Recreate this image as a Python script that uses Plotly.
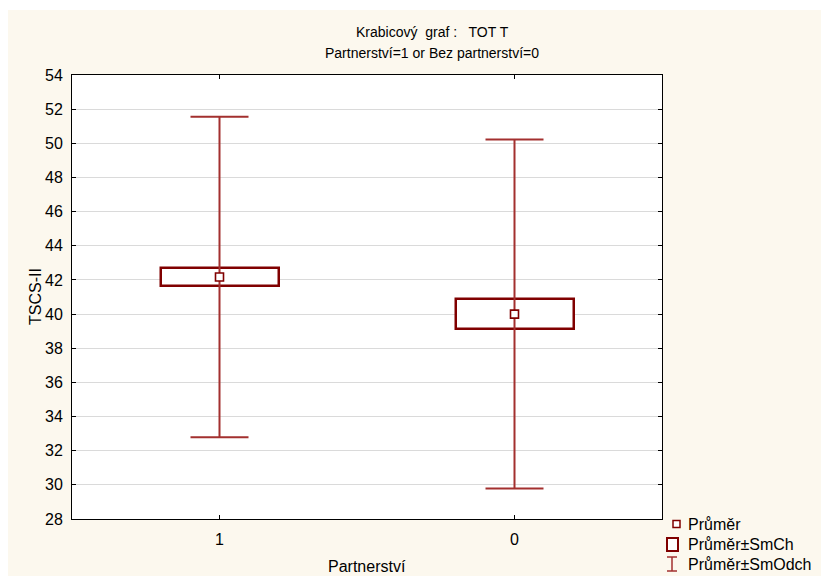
import plotly.graph_objects as go

# Group statistics for TSCS-II by partnership status
categories = ["1", "0"]
means = [42.17, 40.00]
std_errors = [0.52, 0.88]
std_devs = [9.38, 10.22]

y_ticks = list(range(28, 55, 2))

title_line1 = "Krabicový  graf :   TOT T"
title_line2 = "Partnerství=1 or Bez partnerství=0"
x_title = "Partnerství"
y_title = "TSCS-II"
legend_labels = ["Průměr", "Průměr±SmCh", "Průměr±SmOdch"]

BOX_COLOR = "#800000"
WHISKER_COLOR = "#A3302F"
BG = "#FCF8EE"
FONT = "Liberation Sans, Arial, sans-serif"

# plot area in pixels
W, H = 821, 576
L, R, T, B = 72, 159, 75, 57
PW = W - L - R
PH = H - T - B


def px_x(px):
    return (px - L) / PW


def px_y(py):
    return (H - B - py) / PH


fig = go.Figure()

# mean ± SD whiskers
fig.add_trace(go.Scatter(
    x=categories, y=means, mode="markers",
    marker=dict(size=0.1, color="rgba(0,0,0,0)"),
    error_y=dict(type="data", array=std_devs, visible=True,
                 color=WHISKER_COLOR, thickness=2, width=29),
    showlegend=False, hoverinfo="skip",
))

# mean ± SE boxes
fig.add_trace(go.Bar(
    x=categories,
    y=[2 * s for s in std_errors],
    base=[m - s for m, s in zip(means, std_errors)],
    width=0.4,
    marker=dict(color="white", line=dict(color=BOX_COLOR, width=2.5)),
    showlegend=False, hoverinfo="skip",
))

# means
fig.add_trace(go.Scatter(
    x=categories, y=means, mode="markers",
    marker=dict(symbol="square", size=8, color="white",
                line=dict(color=BOX_COLOR, width=1.6)),
    showlegend=False, hoverinfo="skip",
))

shapes = [
    # white strips along the top and left edge of the page
    dict(type="rect", xref="paper", yref="paper",
         x0=px_x(0), x1=px_x(W), y0=px_y(10), y1=px_y(0),
         fillcolor="white", line=dict(width=0), layer="below"),
    dict(type="rect", xref="paper", yref="paper",
         x0=px_x(0), x1=px_x(8), y0=px_y(H), y1=px_y(0),
         fillcolor="white", line=dict(width=0), layer="below"),
    # legend glyphs
    dict(type="rect", xref="paper", yref="paper",
         x0=px_x(673), x1=px_x(680), y0=px_y(527.5), y1=px_y(520.5),
         fillcolor="white", line=dict(color=BOX_COLOR, width=1.5)),
    dict(type="rect", xref="paper", yref="paper",
         x0=px_x(667), x1=px_x(678), y0=px_y(551), y1=px_y(538),
         fillcolor="white", line=dict(color=BOX_COLOR, width=2)),
    dict(type="line", xref="paper", yref="paper",
         x0=px_x(672), x1=px_x(672), y0=px_y(571), y1=px_y(557),
         line=dict(color=WHISKER_COLOR, width=1.5)),
    dict(type="line", xref="paper", yref="paper",
         x0=px_x(667), x1=px_x(677), y0=px_y(557), y1=px_y(557),
         line=dict(color=WHISKER_COLOR, width=1.5)),
    dict(type="line", xref="paper", yref="paper",
         x0=px_x(667), x1=px_x(677), y0=px_y(571), y1=px_y(571),
         line=dict(color=WHISKER_COLOR, width=1.5)),
]

annotations = [
    dict(text=title_line1, xref="paper", yref="paper", x=px_x(432), y=px_y(32),
         showarrow=False, xanchor="center", yanchor="middle",
         font=dict(family=FONT, size=14, color="black")),
    dict(text=title_line2, xref="paper", yref="paper", x=px_x(432), y=px_y(53),
         showarrow=False, xanchor="center", yanchor="middle",
         font=dict(family=FONT, size=14, color="black")),
    dict(text=x_title, xref="paper", yref="paper", x=0.5, y=px_y(566),
         showarrow=False, xanchor="center", yanchor="middle",
         font=dict(family=FONT, size=16, color="black")),
    dict(text=y_title, xref="paper", yref="paper", x=px_x(35), y=0.5,
         showarrow=False, xanchor="center", yanchor="middle", textangle=-90,
         font=dict(family=FONT, size=16, color="black")),
]
for i, lab in enumerate(legend_labels):
    annotations.append(dict(
        text=lab, xref="paper", yref="paper", x=px_x(686), y=px_y(524 + 20 * i),
        showarrow=False, xanchor="left", yanchor="middle",
        font=dict(family=FONT, size=16, color="black")))

fig.update_layout(
    width=W, height=H,
    margin=dict(l=L, r=R, t=T, b=B),
    paper_bgcolor=BG, plot_bgcolor="white",
    showlegend=False,
    font=dict(family=FONT, size=16, color="black"),
    shapes=shapes, annotations=annotations,
    bargap=0,
)

fig.update_xaxes(
    type="category", categoryorder="array", categoryarray=categories,
    range=[-0.5, 1.5], showgrid=False,
    showline=True, linecolor="black", linewidth=1, mirror="ticks",
    ticks="inside", ticklen=4, tickcolor="black",
    ticklabelstandoff=6, zeroline=False,
)
fig.update_yaxes(
    range=[28, 54], tickvals=y_ticks, showgrid=True, gridcolor="#DADADA", gridwidth=1,
    showline=True, linecolor="black", linewidth=1, mirror="ticks",
    ticks="inside", ticklen=4, tickcolor="black",
    ticklabelstandoff=5, zeroline=False,
)

fig.write_html("out.html")
